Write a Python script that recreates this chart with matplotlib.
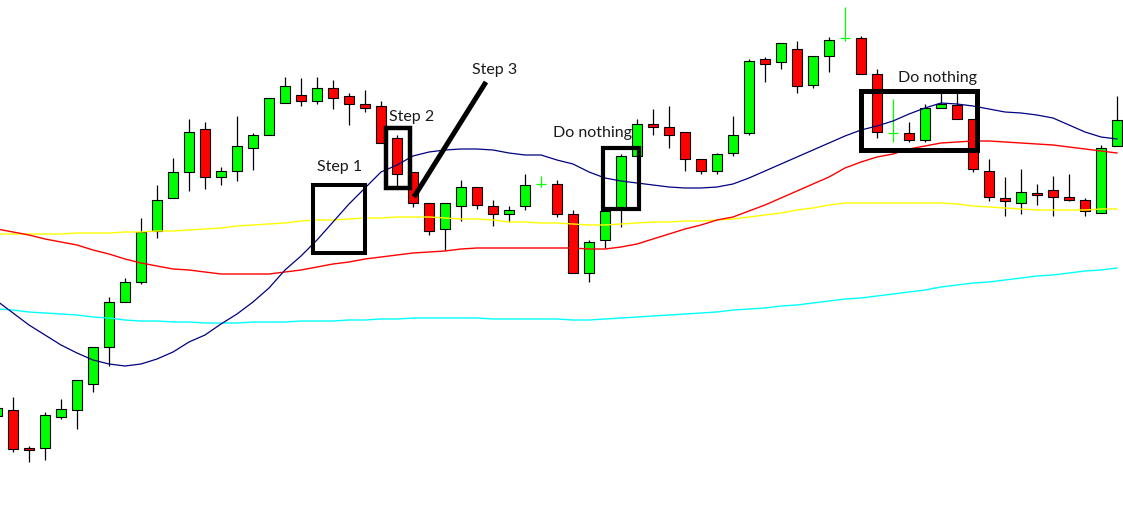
import numpy as np
import matplotlib
matplotlib.use("Agg")
import matplotlib.pyplot as plt
from matplotlib.patches import Rectangle

# candle levels (screen-style scale: smaller = higher price)
idx = np.arange(-1, 70)
opens = [416, 410, 448, 448, 417, 410, 384, 347, 302, 282, 231, 198, 172, 129, 177, 171, 148, 135,
         103, 95, 101, 88, 96, 104, 106, 138, 172, 203, 229, 206, 187, 206, 214, 206, 184, 184,
         214, 273, 240, 208, 156, 124, 127, 132, 159, 171, 153, 133, 59, 62, 49, 85, 56, 38,
         38, 74, 133, 133, 140, 108, 105, 119, 171, 198, 203, 193, 190, 197, 200, 213, 146]
highs = [404, 397, 446, 412, 399, 380, 347, 297, 278, 218, 185, 158, 119, 122, 167, 116, 133, 98,
         77, 78, 77, 80, 93, 90, 101, 135, 172, 203, 203, 180, 187, 200, 206, 174, 176, 180,
         210, 240, 211, 154, 119, 109, 106, 132, 159, 153, 116, 59, 57, 43, 41, 56, 37, 7,
         36, 69, 99, 122, 104, 92, 92, 119, 159, 177, 169, 184, 176, 174, 198, 145, 96]
lows = [420, 452, 462, 460, 419, 429, 392, 366, 302, 284, 238, 198, 191, 189, 185, 181, 170, 135,
        103, 106, 104, 109, 125, 112, 143, 186, 207, 235, 250, 221, 209, 226, 222, 210, 187, 217,
        273, 282, 248, 227, 156, 135, 148, 171, 174, 174, 156, 135, 82, 69, 93, 88, 72, 41,
        74, 138, 142, 142, 142, 108, 119, 172, 201, 216, 214, 205, 216, 201, 216, 213, 146]
closes = [408, 449, 450, 415, 409, 380, 347, 302, 282, 232, 200, 172, 132, 177, 171, 146, 135, 98,
          86, 101, 88, 98, 104, 108, 143, 174, 203, 231, 203, 187, 205, 214, 210, 185, 184, 214,
          273, 242, 211, 156, 124, 127, 135, 159, 171, 154, 135, 61, 64, 43, 86, 56, 40, 38,
          74, 132, 133, 140, 108, 104, 119, 169, 197, 201, 192, 195, 197, 200, 211, 148, 120]

# moving averages at each candle
ma_navy = [301, 313, 325, 335, 345, 353, 360, 364, 366, 364, 359, 352, 342, 335, 324, 314, 302, 288,
           270, 256, 240, 222, 204, 188, 172, 165, 156, 152, 150, 149, 149, 150, 153, 155, 155, 160,
           164, 172, 178, 181, 183, 185, 187, 188, 188, 187, 184, 178, 171, 164, 157, 150, 143, 136,
           130, 126, 121, 114, 108, 103, 104, 106, 109, 112, 113, 115, 118, 125, 132, 137, 139]
ma_red = [229, 232, 235, 239, 242, 245, 250, 254, 259, 263, 266, 269, 270, 272, 274, 274, 274, 274,
          272, 270, 267, 264, 262, 259, 257, 255, 253, 252, 251, 249, 248, 248, 248, 248, 248, 248,
          248, 249, 249, 247, 244, 239, 234, 229, 225, 220, 217, 211, 205, 198, 191, 184, 177, 168,
          162, 157, 154, 149, 146, 143, 142, 141, 141, 142, 143, 144, 145, 147, 149, 151, 153]
ma_yellow = [234, 234, 234, 234, 234, 233, 233, 233, 232, 232, 231, 231, 230, 229, 228, 226, 225, 224,
             223, 221, 220, 220, 219, 218, 218, 217, 217, 217, 218, 219, 219, 220, 222, 222, 223, 223,
             224, 225, 225, 224, 223, 222, 222, 221, 221, 220, 219, 217, 215, 213, 210, 208, 205, 203,
             203, 203, 203, 203, 203, 203, 204, 206, 207, 208, 209, 210, 210, 210, 210, 209, 209]
ma_cyan = [309, 310, 312, 313, 314, 315, 317, 318, 320, 321, 321, 322, 322, 323, 323, 323, 322, 322,
           322, 321, 321, 321, 320, 320, 319, 319, 318, 318, 318, 318, 318, 319, 319, 319, 319, 319,
           320, 320, 319, 318, 317, 316, 315, 314, 313, 312, 310, 309, 308, 306, 305, 303, 301, 299,
           298, 296, 294, 292, 290, 287, 285, 283, 282, 280, 278, 276, 275, 273, 271, 270, 268]

# annotations: (x0, x1, y0, y1) in candle index / level units
boxes = [(18.75, 22.0, 185, 253, 2.9), (23.3, 24.8, 128, 188, 3.2),
         (36.9, 39.1, 148, 209, 3.0), (52.97, 60.28, 90.5, 149.5, 3.6)]
labels = [("Step 1", 20.4, 171), ("Step 2", 24.9, 121), ("Step 3", 30.1, 74),
          ("Do nothing", 36.2, 137), ("Do nothing", 57.8, 82)]
arrow_line = ([25.06, 29.56], [197, 82])

GREEN = "#00ff00"
RED = "#ff0000"

fig = plt.figure(figsize=(11.23, 5.08), dpi=100)
ax = fig.add_axes([0, 0, 1, 1])
ax.set_xlim(-13 / 16, 1110 / 16)
ax.set_ylim(508, 0)
ax.axis("off")

o = np.array(opens)
c = np.array(closes)
h = np.array(highs)
l = np.array(lows)
w = 0.6

body = o != c
up = c < o
ax.vlines(idx[body], h[body], l[body], color="black", lw=0.9, zorder=2)
cols = np.where(up, GREEN, RED)
ax.bar(idx[body], np.abs(o - c)[body], bottom=np.minimum(o, c)[body], width=w,
       color=cols[body], edgecolor="black", linewidth=0.8, zorder=3)

doji = ~body
ax.vlines(idx[doji], h[doji], l[doji], color=GREEN, lw=0.9, zorder=3)
ax.hlines(c[doji], idx[doji] - w / 2, idx[doji] + w / 2, color=GREEN, lw=0.9, zorder=3)

ax.plot(idx, ma_cyan, color="#00ffff", lw=1.0, zorder=4)
ax.plot(idx, ma_yellow, color="#ffff00", lw=1.0, zorder=4)
ax.plot(idx, ma_red, color="#ff0000", lw=1.0, zorder=4)
ax.plot(idx, ma_navy, color="#000080", lw=0.9, zorder=4)

for x0, x1, y0, y1, lw in boxes:
    ax.add_patch(Rectangle((x0, y0), x1 - x0, y1 - y0, fill=False, edgecolor="black",
                           lw=lw, joinstyle="miter", zorder=5))

ax.plot(*arrow_line, color="black", lw=3.6, solid_capstyle="butt", zorder=5)

for txt, x, y in labels:
    ax.text(x, y, txt, ha="center", va="baseline", fontsize=11.5,
            family=["Lato", "DejaVu Sans"], color="#1a1a1a", zorder=6)

fig.savefig("out.png", dpi=100, facecolor="white")
